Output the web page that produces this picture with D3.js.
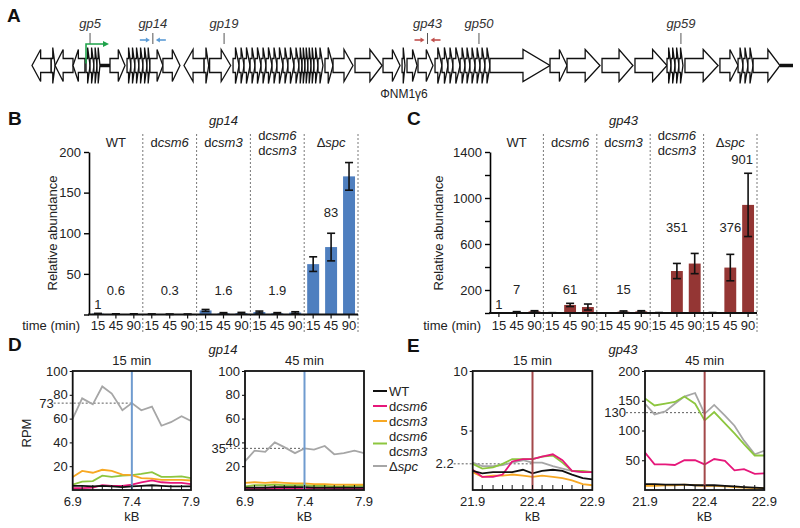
<!DOCTYPE html>
<html>
<head>
<meta charset="utf-8">
<script src="https://cdn.jsdelivr.net/npm/d3@7"></script>
<style>
  body { margin: 0; background: #fff; }
  svg text { font-family: "Liberation Sans", Arial, sans-serif; fill: #222; }
</style>
</head>
<body>
<svg id="fig" width="800" height="528"></svg>
<script>
// ---------------- data ----------------
// genome map, kb : [start, end, strand]
const genes = [
  [0.8, 1.85, -1], [1.85, 2.06, 1], [2.06, 3.04, -1], [3.04, 3.69, -1],
  [3.75, 3.97, 1], [3.97, 4.18, 1], [4.18, 4.35, 1], [4.35, 4.51, 1],
  [5.06, 5.88, 1],
  [5.99, 6.2, 1], [6.2, 6.42, 1], [6.42, 6.64, 1], [6.64, 6.86, 1], [6.86, 7.08, 1], [7.08, 7.24, 1],
  [7.24, 7.95, 1], [7.95, 8.88, 1], [9.1, 10.2, -1], [10.2, 10.45, 1], [10.5, 11.65, 1],
  [11.78, 12.11, 1], [12.11, 12.38, 1], [12.38, 12.71, 1], [12.71, 12.98, 1], [12.98, 13.31, 1],
  [13.31, 13.58, 1], [13.58, 13.91, 1], [13.91, 14.18, 1], [14.18, 14.51, 1], [14.51, 14.78, 1],
  [14.78, 15.11, 1], [15.11, 15.38, 1], [15.38, 15.55, 1], [15.55, 15.71, 1], [15.71, 15.87, 1],
  [15.87, 16.04, 1], [16.04, 16.2, 1], [16.2, 16.42, 1], [16.42, 16.69, 1],
  [16.8, 17.24, 1], [17.24, 18.33, 1], [18.44, 19.92, 1], [19.97, 20.9, 1], [21.01, 21.17, 1],
  [21.28, 21.83, 1], [21.88, 22.7, 1],
  [22.81, 23.19, 1], [23.19, 23.52, 1], [23.52, 23.79, 1], [23.79, 24.18, 1], [24.18, 24.45, 1],
  [24.45, 24.72, 1], [24.72, 25.0, 1], [25.0, 25.27, 1], [25.27, 25.54, 1], [25.54, 25.81, 1],
  [25.81, 29.09, 1], [29.09, 30.02, 1], [30.02, 31.82, 1], [31.93, 33.62, 1], [33.73, 35.48, 1],
  [35.48, 35.7, 1], [35.7, 35.92, 1], [35.92, 36.13, 1], [36.13, 36.35, 1],
  [36.46, 38.27, 1], [38.37, 39.36, 1],
  [39.36, 39.63, 1], [39.63, 39.9, 1], [39.9, 40.18, 1], [40.18, 41.65, 1]
];
const spacers = [[4.51, 5.06], [41.65, 42.36]];
const geneMarks = [["gp5", 3.97], ["gp14", 7.4], ["gp19", 11.29], ["gp43", 22.4], ["gp50", 25.21], ["gp59", 36.24]];
const primers = [[7.4, "#5b9bd5"], [22.4, "#c0504d"]];
const promoterKb = 3.75;
const phageName = "ΦNM1γ6";

// qPCR bars
const strains = ["WT", "dcsm6", "dcsm3", "dcsm6 dcsm3", "Δspc"];
const times = ["15", "45", "90"];
const gp14Mean = [[1, 0.6, 0.6], [0.4, 0.3, 0.3], [5, 1.5, 1.6], [3, 1.5, 2.4], [62, 83, 170]];
const gp14Err = [[0.4, 0.3, 0.3], [0.2, 0.2, 0.2], [1.2, 0.8, 1], [1.2, 0.8, 1], [9, 17, 17]];
const gp14Notes = [[0, 0, "1", 7], [0, 1, "0.6", 24], [1, 1, "0.3", 24], [2, 1, "1.6", 24], [3, 1, "1.9", 24], [4, 1, "83", 120]];
const gp43Mean = [[1, 8, 14], [2, 70, 52], [1, 12, 14], [3, 365, 430], [3, 395, 940]];
const gp43Err = [[1, 4, 6], [1, 14, 26], [1, 6, 6], [1, 66, 88], [1, 115, 275]];
const gp43Notes = [[0, 0, "1", 35], [0, 1, "7", 165], [1, 1, "61", 165], [2, 1, "15", 165], [3, 1, "351", 704], [4, 1, "376", 704], [4, 2, "901", 1296]];

// RPM profiles
const kbD = [6.9, 6.98, 7.07, 7.15, 7.23, 7.32, 7.4, 7.48, 7.57, 7.65, 7.73, 7.82, 7.9];
const kbE = [21.9, 21.98, 22.07, 22.15, 22.23, 22.32, 22.4, 22.48, 22.57, 22.65, 22.73, 22.82, 22.9];
const seriesNames = ["Δspc", "dcsm6 dcsm3", "dcsm3", "dcsm6", "WT"];
const seriesColors = ["#a6a6a6", "#8dc63f", "#f7a823", "#e6177a", "#111111"];
const d15 = [
  [60, 77, 72, 87, 81, 67, 73, 67, 70, 54, 57, 62, 58],
  [4.5, 7, 7.5, 12, 11, 12, 12.5, 13.5, 15, 11, 11, 11.5, 10],
  [11, 16, 14.5, 17, 16, 13, 12.5, 10, 9.5, 8.5, 8.5, 8.5, 8],
  [1.5, 1.5, 2, 4, 3.5, 3.5, 4.5, 6.5, 8, 6.5, 6, 6, 5],
  [3.5, 3.5, 3, 3.5, 3, 2.5, 3, 3.5, 4, 3.5, 3, 3, 3]
];
const d45 = [
  [24, 33, 32, 40, 36, 31, 35, 34, 37, 30, 31, 33, 31],
  [3, 4, 4, 4.5, 4, 4, 4, 3.5, 3.5, 3, 3, 3.5, 3.5],
  [6, 6.5, 6, 6.5, 6, 5.5, 5.5, 5, 5, 4.5, 4.5, 4.5, 4.5],
  [1, 1, 1, 1, 1.5, 1.5, 1.5, 1.5, 1.5, 1, 1, 1, 1],
  [2, 2, 2, 2.5, 2.5, 2.5, 2.5, 2, 2, 2, 2, 2, 2]
];
const e15 = [
  [2.3, 2.0, 2.0, 2.1, 2.3, 2.5, 2.3, 2.3, 2.0, 1.8, 1.6, 1.5, 1.5],
  [2.2, 1.8, 1.9, 2.2, 2.6, 2.6, 2.6, 2.8, 2.9, 2.3, 1.6, 1.6, 1.5],
  [1.5, 1.1, 1.2, 1.2, 1.3, 1.2, 1.1, 1.2, 1.1, 1.0, 0.8, 0.5, 0.4],
  [1.7, 1.1, 1.1, 1.3, 2.4, 2.6, 2.6, 2.8, 3.0, 2.5, 1.6, 1.5, 1.5],
  [1.6, 1.4, 1.5, 1.5, 1.5, 1.7, 1.4, 1.6, 1.7, 1.6, 1.3, 1.0, 0.9]
];
const e45 = [
  [145, 127, 132, 145, 157, 163, 128, 143, 125, 108, 83, 60, 66],
  [154, 142, 145, 148, 157, 145, 117, 131, 112, 95, 77, 58, 58],
  [7, 7, 8, 8, 9, 8, 7, 7, 6, 5, 4, 3, 3],
  [63, 43, 43, 42, 50, 50, 43, 52, 49, 33, 35, 27, 28],
  [10, 10, 9, 9, 9, 8, 8, 8, 7, 6, 5, 4, 3]
];

// ---------------- drawing ----------------
const svg = d3.select("#fig");

function panelLabel(t, x, y) {
  svg.append("text").attr("x", x).attr("y", y).text(t)
    .style("font-size", "19px").style("font-weight", "bold").style("fill", "#111");
}

// "dcsm6" -> d + italic csm6, "Δspc" -> Δ + italic spc
function strainSpans(sel, s) {
  if (s === "WT") { sel.append("tspan").text(s); return; }
  sel.append("tspan").text(s[0]);
  sel.append("tspan").style("font-style", "italic").text(s.slice(1));
}

//*********** A: genome map ***********
panelLabel("A", 7, 22);
const xMap = d3.scaleLinear().domain([0.8, 42.36]).range([32, 793]);
const yGene = 65.5;

function genePath(d) {
  const a = xMap(d[0]), b = xMap(d[1]);
  const len = b - a;
  const small = len < 10;
  const hl = small ? len * 0.6 : Math.min(len * 0.45, 28);
  const bh = 7, hh = small ? 18 : 16;
  if (d[2] > 0) {
    const xb = b - hl;
    return `M${a},${yGene - bh}L${xb},${yGene - bh}L${xb},${yGene - hh}L${b},${yGene}L${xb},${yGene + hh}L${xb},${yGene + bh}L${a},${yGene + bh}Z`;
  }
  const xb = a + hl;
  return `M${b},${yGene - bh}L${xb},${yGene - bh}L${xb},${yGene - hh}L${a},${yGene}L${xb},${yGene + hh}L${xb},${yGene + bh}L${b},${yGene + bh}Z`;
}

const gA = svg.append("g").attr("class", "genome");
gA.selectAll(".spacer").data(spacers).enter().append("line")
  .attr("x1", d => xMap(d[0])).attr("x2", d => xMap(d[1]))
  .attr("y1", yGene).attr("y2", yGene)
  .attr("stroke", "#111").attr("stroke-width", 3.5);
gA.selectAll(".gene").data(genes).enter().append("path")
  .attr("class", "gene").attr("d", genePath)
  .attr("fill", "#fff").attr("stroke", "#111").attr("stroke-width", 1.3);

const mk = gA.selectAll(".mk").data(geneMarks).enter().append("g").attr("class", "mk");
mk.append("text").attr("x", d => xMap(d[1])).attr("y", 28)
  .attr("text-anchor", "middle").style("font-style", "italic").style("font-size", "13px")
  .style("fill", "#333").text(d => d[0]);
mk.append("line").attr("x1", d => xMap(d[1])).attr("x2", d => xMap(d[1]))
  .attr("y1", 33).attr("y2", 44).attr("stroke", "#555").attr("stroke-width", 1);

// primer pairs
primers.forEach(p => {
  const cx = xMap(p[0]);
  [-1, 1].forEach(s => {
    const from = cx + s * 13, to = cx + s * 3;
    gA.append("line").attr("x1", from).attr("x2", to + s * 3).attr("y1", 40).attr("y2", 40)
      .attr("stroke", p[1]).attr("stroke-width", 1.6);
    gA.append("path").attr("d", `M${to},40L${to + s * 4},37.5L${to + s * 4},42.5Z`).attr("fill", p[1]);
  });
});

// promoter
const px = xMap(promoterKb);
gA.append("path").attr("d", `M${px},${yGene - 2}V44H${px + 18}`)
  .attr("fill", "none").attr("stroke", "#1fa24a").attr("stroke-width", 1.6);
gA.append("path").attr("d", `M${px + 23},44L${px + 17},41L${px + 17},47Z`).attr("fill", "#1fa24a");

gA.append("text").attr("x", 404).attr("y", 98).attr("text-anchor", "middle")
  .style("font-size", "12px").text(phageName);

//*********** B / C: bars ***********
function drawBars(o) {
  const g = svg.append("g");
  const gx = d3.scaleBand().domain(d3.range(strains.length)).range([o.x0, o.x1]);
  const bx = d3.scaleBand().domain(d3.range(times.length)).range([0, gx.bandwidth()])
    .paddingInner(1 / 3).paddingOuter(1 / 6);
  const y = d3.scaleLinear().domain([0, o.max]).range([o.y0, 152]);
  const cx = (gi, bi) => gx(gi) + bx(bi) + bx.bandwidth() / 2;

  // separators
  g.selectAll(".sep").data(strains).enter().append("line")
    .attr("x1", (d, i) => gx(i) + gx.bandwidth()).attr("x2", (d, i) => gx(i) + gx.bandwidth())
    .attr("y1", 134).attr("y2", 334)
    .attr("stroke", "#555").attr("stroke-width", 0.8).attr("stroke-dasharray", "2,2");

  // bars
  const flat = [];
  o.mean.forEach((row, gi) => row.forEach((v, bi) => flat.push({ gi, bi, v, e: o.err[gi][bi] })));
  g.selectAll(".bar").data(flat).enter().append("rect")
    .attr("x", d => gx(d.gi) + bx(d.bi)).attr("width", bx.bandwidth())
    .attr("y", d => y(d.v)).attr("height", d => y(0) - y(d.v))
    .attr("fill", o.color);
  const eb = g.selectAll(".eb").data(flat).enter().append("g");
  eb.append("line").attr("x1", d => cx(d.gi, d.bi)).attr("x2", d => cx(d.gi, d.bi))
    .attr("y1", d => y(Math.max(0, d.v - d.e))).attr("y2", d => y(d.v + d.e));
  eb.append("line").attr("x1", d => cx(d.gi, d.bi) - 4).attr("x2", d => cx(d.gi, d.bi) + 4)
    .attr("y1", d => y(d.v + d.e)).attr("y2", d => y(d.v + d.e));
  eb.append("line").attr("x1", d => cx(d.gi, d.bi) - 4).attr("x2", d => cx(d.gi, d.bi) + 4)
    .attr("y1", d => y(Math.max(0, d.v - d.e))).attr("y2", d => y(Math.max(0, d.v - d.e)));
  eb.selectAll("line").attr("stroke", "#111").attr("stroke-width", 1.6);

  // y axis
  const ya = g.append("g").attr("transform", `translate(${o.x0},0)`)
    .call(d3.axisLeft(y).tickValues(o.ticks).tickSize(5).tickSizeOuter(0).tickPadding(3)
      .tickFormat(d => o.labels.includes(d) ? d : ""));
  ya.select(".domain").attr("stroke-width", 1.6);
  ya.selectAll(".tick line").attr("stroke-width", 1.4);
  ya.selectAll("text").style("font-size", "13px").style("font-family", null);

  // x axis
  g.append("line").attr("x1", o.x0 - 1).attr("x2", o.x1).attr("y1", y(0)).attr("y2", y(0))
    .attr("stroke", "#111").attr("stroke-width", 1.8);
  g.selectAll(".xt").data(flat).enter().append("line")
    .attr("x1", d => cx(d.gi, d.bi)).attr("x2", d => cx(d.gi, d.bi))
    .attr("y1", y(0)).attr("y2", y(0) + 4).attr("stroke", "#111").attr("stroke-width", 1.2);
  g.selectAll(".xl").data(flat).enter().append("text")
    .attr("x", d => cx(d.gi, d.bi)).attr("y", 330).attr("text-anchor", "middle")
    .style("font-size", "13px").text(d => times[d.bi]);
  g.append("text").attr("x", o.x0 - 9).attr("y", 330).attr("text-anchor", "end")
    .style("font-size", "13px").text("time (min)");

  // strain labels
  strains.forEach((s, i) => {
    const parts = s.split(" ");
    const c = gx(i) + gx.bandwidth() / 2;
    parts.forEach((p, j) => {
      const t = g.append("text").attr("x", c)
        .attr("y", parts.length === 1 ? 147 : 140 + j * 15)
        .attr("text-anchor", "middle").style("font-size", "13px");
      strainSpans(t, p);
    });
  });

  // notes
  g.selectAll(".note").data(o.notes).enter().append("text")
    .attr("x", d => cx(d[0], d[1]) - (d[2] === "901" ? 6 : 0)).attr("y", d => y(d[3]))
    .attr("text-anchor", "middle").style("font-size", "13px").text(d => d[2]);

  g.append("text").attr("x", (o.x0 + o.x1) / 2).attr("y", 125).attr("text-anchor", "middle")
    .style("font-style", "italic").style("font-size", "13px").text(o.title);
  g.append("text").attr("transform", `translate(${o.x0 - o.ylOff},233) rotate(-90)`)
    .attr("text-anchor", "middle").style("font-size", "13px").text("Relative abundance");
}

panelLabel("B", 8, 125);
drawBars({ x0: 89, x1: 358, y0: 314.5, max: 200, ticks: [0, 50, 100, 150, 200], labels: [50, 100, 150, 200],
  mean: gp14Mean, err: gp14Err, notes: gp14Notes, color: "#4f7fbf", title: "gp14", ylOff: 32 });
panelLabel("C", 407, 125);
drawBars({ x0: 490, x1: 757, y0: 313, max: 1400, ticks: [0, 200, 400, 600, 800, 1000, 1200, 1400], labels: [200, 600, 1000, 1400],
  mean: gp43Mean, err: gp43Err, notes: gp43Notes, color: "#943634", title: "gp43", ylOff: 47 });

//*********** D / E: RPM profiles ***********
let clipId = 0;
function drawProfile(o) {
  const g = svg.append("g");
  const top = 371, bot = 490;
  const x = d3.scaleLinear().domain([o.kb[0], o.kb[o.kb.length - 1]]).range([o.x0, o.x1]);
  const y = d3.scaleLinear().domain([0, o.max]).range([bot, top]);
  const id = "clip" + (clipId++);
  g.append("clipPath").attr("id", id).append("rect")
    .attr("x", o.x0).attr("y", top).attr("width", o.x1 - o.x0).attr("height", bot - top);

  // reference
  const mid = o.kb[6];
  g.append("line").attr("x1", o.x0 - 19).attr("x2", x(mid)).attr("y1", y(o.ref)).attr("y2", y(o.ref))
    .attr("stroke", "#333").attr("stroke-width", 0.8).attr("stroke-dasharray", "2,2");
  g.append("text").attr("x", o.x0 - 19).attr("y", y(o.ref)).attr("dy", "0.35em")
    .attr("text-anchor", "end").style("font-size", "13px").text(o.ref);

  const lines = g.append("g").attr("clip-path", `url(#${id})`);
  const line = d3.line().x((d, i) => x(o.kb[i])).y(d => y(d));
  lines.selectAll(".ln").data(o.series).enter().append("path")
    .attr("d", line).attr("fill", "none")
    .attr("stroke", (d, i) => seriesColors[i]).attr("stroke-width", 1.8);
  lines.append("line").attr("x1", x(mid)).attr("x2", x(mid)).attr("y1", top).attr("y2", bot)
    .attr("stroke", o.mark).attr("stroke-width", 2);

  // inner bottom ticks
  g.selectAll(".it").data(o.kb.slice(1, -1)).enter().append("line")
    .attr("x1", d => x(d)).attr("x2", d => x(d)).attr("y1", bot).attr("y2", bot - 5)
    .attr("stroke", "#111").attr("stroke-width", 1);

  const ya = g.append("g").attr("transform", `translate(${o.x0},0)`)
    .call(d3.axisLeft(y).tickValues(o.ticks).tickSize(3).tickPadding(2));
  ya.select(".domain").remove();
  ya.selectAll("text").style("font-size", "13px").style("font-family", null);

  g.append("rect").attr("x", o.x0).attr("y", top).attr("width", o.x1 - o.x0).attr("height", bot - top)
    .attr("fill", "none").attr("stroke", "#111").attr("stroke-width", 1.8);

  g.selectAll(".xl").data([o.kb[0], mid, o.kb[o.kb.length - 1]]).enter().append("text")
    .attr("x", d => x(d)).attr("y", 506).attr("text-anchor", "middle")
    .style("font-size", "13px").text(d3.format(".1f"));
  g.append("text").attr("x", x(mid)).attr("y", 521).attr("text-anchor", "middle")
    .style("font-size", "13px").text("kB");
  g.append("text").attr("x", (o.x0 + o.x1) / 2).attr("y", 365).attr("text-anchor", "middle")
    .style("font-size", "13px").text(o.title);
}

panelLabel("D", 8, 351);
panelLabel("E", 407, 352);
svg.append("text").attr("x", 223).attr("y", 354).attr("text-anchor", "middle")
  .style("font-style", "italic").style("font-size", "13px").text("gp14");
svg.append("text").attr("x", 623).attr("y", 354).attr("text-anchor", "middle")
  .style("font-style", "italic").style("font-size", "13px").text("gp43");

drawProfile({ x0: 72.7, x1: 191, kb: kbD, series: d15, max: 100, ticks: [20, 40, 60, 80, 100], ref: 73, mark: "#6f9bcf", title: "15 min" });
drawProfile({ x0: 245, x1: 364, kb: kbD, series: d45, max: 100, ticks: [20, 40, 60, 80, 100], ref: 35, mark: "#6f9bcf", title: "45 min" });
drawProfile({ x0: 472.7, x1: 592.3, kb: kbE, series: e15, max: 10, ticks: [5, 10], ref: 2.2, mark: "#a3484a", title: "15 min" });
drawProfile({ x0: 645, x1: 764.3, kb: kbE, series: e45, max: 200, ticks: [50, 100, 150, 200], ref: 130, mark: "#a3484a", title: "45 min" });

svg.append("text").attr("transform", "translate(31,433) rotate(-90)").attr("text-anchor", "middle")
  .style("font-size", "13px").text("RPM");

// legend (WT first, as in the figure)
const legRows = [[4, [391]], [3, [406]], [2, [421]], [1, [436, 451]], [0, [466]]];
const leg = svg.append("g");
legRows.forEach(([si, ys]) => {
  const ly = d3.mean(ys);
  leg.append("line").attr("x1", 373).attr("x2", 387).attr("y1", ly).attr("y2", ly)
    .attr("stroke", seriesColors[si]).attr("stroke-width", 2);
  seriesNames[si].split(" ").forEach((p, j) => {
    const t = leg.append("text").attr("x", 389).attr("y", ys[j]).attr("dy", "0.35em")
      .style("font-size", "13px");
    strainSpans(t, p);
  });
});
</script>
</body>
</html>
